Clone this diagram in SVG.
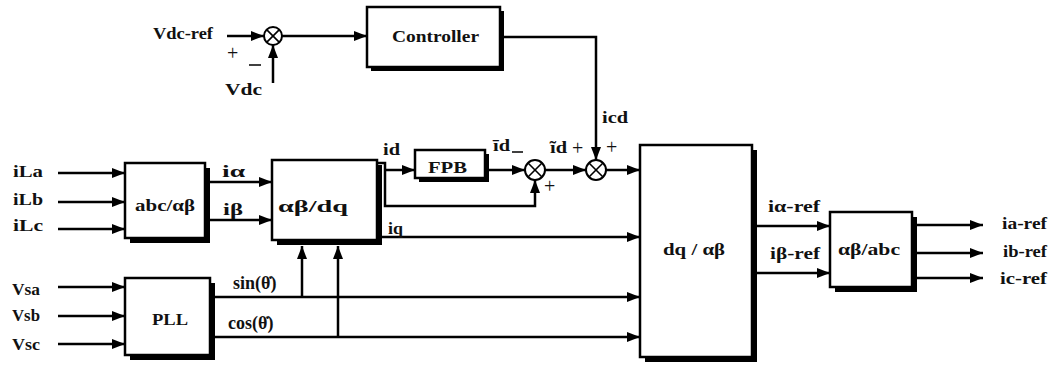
<svg xmlns="http://www.w3.org/2000/svg" width="1054" height="370" viewBox="0 0 1054 370" font-family="'Liberation Serif', 'DejaVu Serif', serif">
<defs>
<marker id="ah" markerUnits="userSpaceOnUse" markerWidth="14" markerHeight="12" refX="13" refY="5" orient="auto">
<path d="M0,0 L13,5 L0,10 z" fill="#000"/>
</marker>
</defs>
<style>
text{font-family:'Liberation Serif','DejaVu Serif',serif;font-weight:bold;font-size:16px;fill:#111}
.c{stroke:#000;stroke-width:2.5;fill:none}
.a{marker-end:url(#ah)}
.box{fill:#fff;stroke:#000;stroke-width:2.5}
.sh{fill:#000}
.sj{fill:#fff;stroke:#000;stroke-width:2}
.x{stroke:#000;stroke-width:1.6}
.p{font-size:20px;font-weight:normal}
.t{font-size:18px}
</style>
<rect width="1054" height="370" fill="#fff"/>

<g id="connectors">
<line class="c a" x1="227" y1="36" x2="264" y2="36"/>
<line class="c a" x1="273" y1="83" x2="273" y2="45"/>
<line class="c a" x1="282" y1="36" x2="367" y2="36"/>
<polyline class="c a" points="500,37 596,37 596,160"/>
<line class="c a" x1="58" y1="173" x2="125" y2="173"/>
<line class="c a" x1="58" y1="202" x2="125" y2="202"/>
<line class="c a" x1="58" y1="229" x2="125" y2="229"/>
<line class="c a" x1="205" y1="182" x2="272" y2="182"/>
<line class="c a" x1="205" y1="220" x2="272" y2="220"/>
<polyline class="c a" points="377,163 385,163 385,206 535,206 535,180"/>
<line class="c a" x1="385" y1="170" x2="415" y2="170"/>
<line class="c a" x1="485" y1="170" x2="525" y2="170"/>
<line class="c a" x1="545" y1="170" x2="586" y2="170"/>
<line class="c a" x1="606" y1="170" x2="640" y2="170"/>
<line class="c a" x1="377" y1="237" x2="640" y2="237"/>
<line class="c a" x1="210" y1="297" x2="640" y2="297"/>
<line class="c a" x1="210" y1="337" x2="640" y2="337"/>
<line class="c a" x1="302" y1="297" x2="302" y2="246"/>
<line class="c a" x1="338" y1="337" x2="338" y2="246"/>
<line class="c a" x1="58" y1="287" x2="125" y2="287"/>
<line class="c a" x1="58" y1="316" x2="125" y2="316"/>
<line class="c a" x1="58" y1="344" x2="125" y2="344"/>
<line class="c a" x1="752" y1="226" x2="830" y2="226"/>
<line class="c a" x1="752" y1="273" x2="830" y2="273"/>
<line class="c a" x1="912" y1="225" x2="983" y2="225"/>
<line class="c a" x1="912" y1="253" x2="983" y2="253"/>
<line class="c a" x1="912" y1="278" x2="983" y2="278"/>
</g>

<g id="sum1">
<circle class="sj" cx="273" cy="36" r="9"/>
<line class="x" x1="266.6" y1="29.6" x2="279.4" y2="42.4"/>
<line class="x" x1="266.6" y1="42.4" x2="279.4" y2="29.6"/>
<text x="227" y="60" class="p">+</text>
<line x1="249" y1="65" x2="261" y2="65" stroke="#000" stroke-width="1.5"/>
</g>

<g id="controller">
<rect class="sh" x="371" y="11" width="133" height="60"/>
<rect class="box" x="367" y="7" width="133" height="60"/>
<text x="392" y="42" textLength="87" lengthAdjust="spacingAndGlyphs">Controller</text>
</g>

<g id="abc-ab">
<rect class="sh" x="130" y="168" width="80" height="75"/>
<rect class="box" x="125" y="163" width="80" height="75"/>
<text x="135" y="211" textLength="60" lengthAdjust="spacingAndGlyphs">abc/αβ</text>
</g>

<g id="ab-dq">
<rect class="sh" x="277" y="165" width="105" height="80"/>
<rect class="box" x="272" y="160" width="105" height="80"/>
<text x="278" y="212" textLength="70" lengthAdjust="spacingAndGlyphs">αβ/dq</text>
</g>

<g id="pll">
<rect class="sh" x="130" y="283" width="85" height="77"/>
<rect class="box" x="125" y="278" width="85" height="77"/>
<text x="152" y="325" textLength="36" lengthAdjust="spacingAndGlyphs">PLL</text>
</g>

<g id="fpb">
<rect class="sh" x="419" y="154" width="70" height="28"/>
<rect class="box" x="415" y="150" width="70" height="28"/>
<text x="428" y="173" textLength="39" lengthAdjust="spacingAndGlyphs">FPB</text>
</g>

<g id="sum2">
<circle class="sj" cx="535" cy="170" r="10"/>
<line class="x" x1="528" y1="163" x2="542" y2="177"/>
<line class="x" x1="528" y1="177" x2="542" y2="163"/>
<line x1="512" y1="152" x2="523" y2="152" stroke="#000" stroke-width="1.5"/>
<text x="544" y="193" class="p">+</text>
</g>

<g id="sum3">
<circle class="sj" cx="596" cy="170" r="10"/>
<line class="x" x1="589" y1="163" x2="603" y2="177"/>
<line class="x" x1="589" y1="177" x2="603" y2="163"/>
<text x="572" y="155" class="p">+</text>
<text x="606" y="154" class="p">+</text>
</g>

<g id="dq-ab">
<rect class="sh" x="645" y="150" width="112" height="212"/>
<rect class="box" x="640" y="145" width="112" height="212"/>
<text x="663" y="255" textLength="62" lengthAdjust="spacingAndGlyphs">dq / αβ</text>
</g>

<g id="ab-abc">
<rect class="sh" x="835" y="217" width="82" height="75"/>
<rect class="box" x="830" y="212" width="82" height="75"/>
<text x="838" y="255" textLength="62" lengthAdjust="spacingAndGlyphs">αβ/abc</text>
</g>

<g id="labels">
<text x="153" y="39" textLength="60" lengthAdjust="spacingAndGlyphs">Vdc-ref</text>
<text x="225" y="95" textLength="37" lengthAdjust="spacingAndGlyphs">Vdc</text>
<text x="602" y="123" textLength="26" lengthAdjust="spacingAndGlyphs">icd</text>
<text x="13" y="177" textLength="30" lengthAdjust="spacingAndGlyphs">iLa</text>
<text x="13" y="205" textLength="30" lengthAdjust="spacingAndGlyphs">iLb</text>
<text x="13" y="231" textLength="30" lengthAdjust="spacingAndGlyphs">iLc</text>
<text x="12" y="295" textLength="28" lengthAdjust="spacingAndGlyphs">Vsa</text>
<text x="12" y="321" textLength="28" lengthAdjust="spacingAndGlyphs">Vsb</text>
<text x="12" y="350" textLength="28" lengthAdjust="spacingAndGlyphs">Vsc</text>
<text x="222" y="177" textLength="23" lengthAdjust="spacingAndGlyphs">iα</text>
<text x="223" y="215" textLength="20" lengthAdjust="spacingAndGlyphs">iβ</text>
<text x="233" y="289" class="t">sin(θ̇)</text>
<text x="228" y="329" class="t">cos(θ̇)</text>
<text x="383" y="155" textLength="17" lengthAdjust="spacingAndGlyphs">id</text>
<text x="388" y="234" textLength="15" lengthAdjust="spacingAndGlyphs">iq</text>
<text x="493" y="151" textLength="17" lengthAdjust="spacingAndGlyphs">īd</text>
<text x="550" y="153" textLength="17" lengthAdjust="spacingAndGlyphs">ĩd</text>
<text x="768" y="212" textLength="52" lengthAdjust="spacingAndGlyphs">iα-ref</text>
<text x="770" y="259" textLength="50" lengthAdjust="spacingAndGlyphs">iβ-ref</text>
<text x="1002" y="229" textLength="45" lengthAdjust="spacingAndGlyphs">ia-ref</text>
<text x="1003" y="257" textLength="44" lengthAdjust="spacingAndGlyphs">ib-ref</text>
<text x="1000" y="284" textLength="47" lengthAdjust="spacingAndGlyphs">ic-ref</text>
</g>
</svg>
